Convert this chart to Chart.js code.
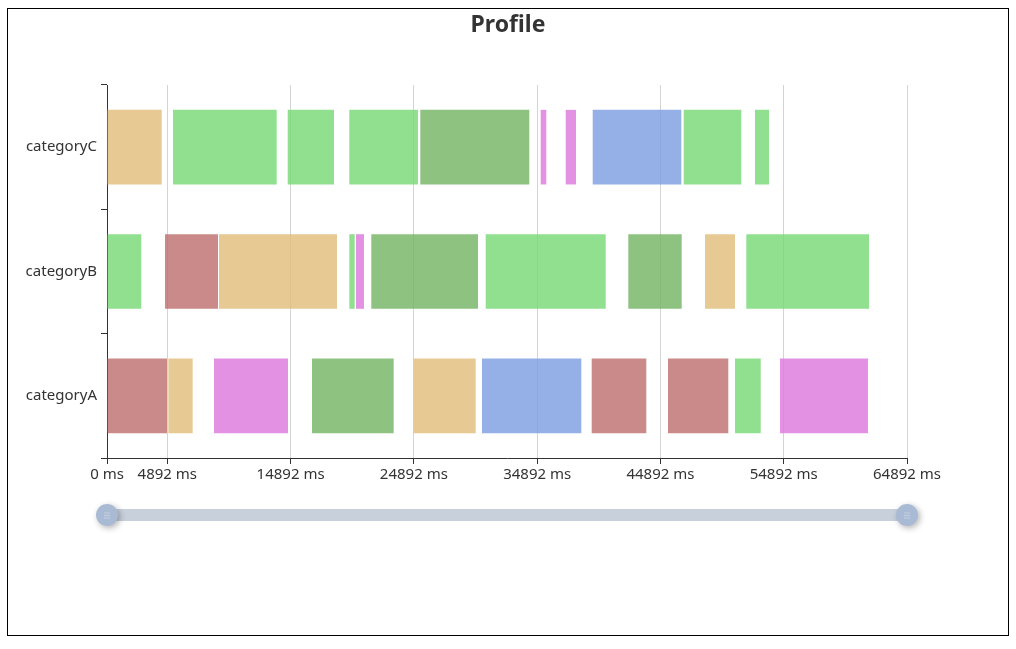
<!DOCTYPE html>
<html>
<head>
<meta charset="utf-8">
<script src="https://cdn.jsdelivr.net/npm/chart.js@4"></script>
<style>
  html, body { margin: 0; padding: 0; background: #fff; }
  #wrap { position: absolute; left: 7px; top: 8px; width: 1000px; height: 626px; border: 1px solid #000; }
  canvas { display: block; }
</style>
</head>
<body>
<div id="wrap"><canvas id="c" width="1000" height="626"></canvas></div>
<script>
// ---- data ----
const categories = ['categoryC', 'categoryB', 'categoryA'];
const typeNames = ['JS Heap', 'Documents', 'Nodes', 'Listeners', 'GPU Memory', 'GPU'];
const xTicks = [0, 4892, 14892, 24892, 34892, 44892, 54892, 64892];

const categoryAStarts = [0, 4975, 8679, 16629, 24878, 30418, 39316, 45506, 50940, 54590];
const categoryAEnds   = [4867, 6950, 14682, 23254, 29907, 38474, 43746, 50397, 53026, 61729];
const categoryATypes  = ['Documents', 'Listeners', 'GPU Memory', 'GPU', 'Listeners', 'JS Heap', 'Documents', 'Documents', 'Nodes', 'GPU Memory'];

const categoryBStarts = [0, 4705, 9085, 19655, 20198, 21439, 30718, 42286, 48507, 51857];
const categoryBEnds   = [2782, 9004, 18656, 20092, 20847, 30094, 40452, 46618, 50940, 61810];
const categoryBTypes  = ['Nodes', 'Documents', 'Listeners', 'Nodes', 'GPU Memory', 'GPU', 'Nodes', 'GPU', 'Listeners', 'Nodes'];

const categoryCStarts = [0, 5354, 14658, 19655, 25414, 35180, 37208, 39398, 46780, 52563];
const categoryCEnds   = [4437, 13765, 18413, 25227, 34255, 35635, 38043, 46585, 51452, 53698];
const categoryCTypes  = ['Listeners', 'Nodes', 'Nodes', 'Nodes', 'GPU', 'GPU Memory', 'GPU Memory', 'JS Heap', 'Nodes', 'Nodes'];

// ---- styles ----
const typeColors = {
  'JS Heap': 'rgba(123,156,225,0.8)',
  'Documents': 'rgba(189,109,108,0.8)',
  'Nodes': 'rgba(117,216,116,0.8)',
  'Listeners': 'rgba(224,188,120,0.8)',
  'GPU Memory': 'rgba(220,119,220,0.8)',
  'GPU': 'rgba(114,179,98,0.8)'
};

const points = [];
const colors = [];
function addCat(name, starts, ends, types) {
  for (let i = 0; i < starts.length; i++) {
    points.push({ y: name, x: [starts[i], ends[i]], t: types[i] });
    colors.push(typeColors[types[i]]);
  }
}
addCat('categoryA', categoryAStarts, categoryAEnds, categoryATypes);
addCat('categoryB', categoryBStarts, categoryBEnds, categoryBTypes);
addCat('categoryC', categoryCStarts, categoryCEnds, categoryCTypes);

const FONT = "'Noto Sans', 'DejaVu Sans', sans-serif";

const sliderPlugin = {
  id: 'slider',
  afterDraw(chart) {
    const ctx = chart.ctx;
    const xs = chart.scales.x;
    const x0 = xs.getPixelForValue(xTicks[0]);
    const x1 = xs.getPixelForValue(xTicks[xTicks.length - 1]);
    const cy = chart.chartArea.bottom + 57;
    ctx.save();
    ctx.fillStyle = '#c8d0dc';
    ctx.fillRect(x0, cy - 6, x1 - x0, 12);
    [x0, x1].forEach(x => {
      ctx.save();
      ctx.shadowColor = 'rgba(0,0,0,0.3)';
      ctx.shadowBlur = 6;
      ctx.shadowOffsetX = 2;
      ctx.shadowOffsetY = 2;
      ctx.beginPath();
      ctx.arc(x, cy, 11, 0, Math.PI * 2);
      ctx.fillStyle = '#a9bbd4';
      ctx.fill();
      ctx.restore();
      ctx.strokeStyle = 'rgba(200,210,225,0.9)';
      ctx.lineWidth = 1;
      for (let k = -1; k <= 1; k++) {
        ctx.beginPath();
        ctx.moveTo(x - 3, cy + k * 2.5 + 0.5);
        ctx.lineTo(x + 3, cy + k * 2.5 + 0.5);
        ctx.stroke();
      }
    });
    ctx.restore();
  }
};

new Chart(document.getElementById('c'), {
  type: 'bar',
  data: {
    labels: categories,
    datasets: [{
      data: points,
      backgroundColor: colors,
      borderWidth: 0,
      barPercentage: 0.6,
      categoryPercentage: 1.0
    }]
  },
  options: {
    indexAxis: 'y',
    responsive: false,
    animation: false,
    devicePixelRatio: 1,
    layout: { padding: 0 },
    plugins: {
      legend: { display: false },
      tooltip: { enabled: false },
      title: {
        display: true,
        text: 'Profile',
        color: '#333',
        font: { family: FONT, size: 23, weight: 'bold' },
        padding: { top: 3, bottom: 45.4 }
      }
    },
    scales: {
      x: {
        type: 'linear',
        min: xTicks[0],
        max: xTicks[xTicks.length - 1],
        afterBuildTicks(scale) { scale.ticks = xTicks.map(v => ({ value: v })); },
        afterFit(scale) { scale.height = 177; scale.paddingRight = 101; scale.paddingLeft = 0; },
        grid: {
          display: true,
          drawOnChartArea: true,
          drawTicks: true,
          tickLength: 6,
          color: '#d4d4d4',
          tickColor: '#333'
        },
        border: { display: true, color: '#333', width: 1 },
        ticks: {
          color: '#333',
          padding: 2,
          maxRotation: 0,
          autoSkip: false,
          font: { family: FONT, size: 15 },
          callback: v => v + ' ms'
        }
      },
      y: {
        type: 'category',
        labels: categories,
        offset: true,
        afterFit(scale) { scale.width = 99; scale.paddingTop = 0; scale.paddingBottom = 0; },
        grid: {
          offset: true,
          drawOnChartArea: false,
          drawTicks: true,
          tickLength: 6,
          tickColor: '#333'
        },
        border: { display: true, color: '#333', width: 1 },
        ticks: {
          color: '#333',
          padding: 4,
          font: { family: FONT, size: 15 }
        }
      }
    }
  },
  plugins: [sliderPlugin]
});
</script>
</body>
</html>
